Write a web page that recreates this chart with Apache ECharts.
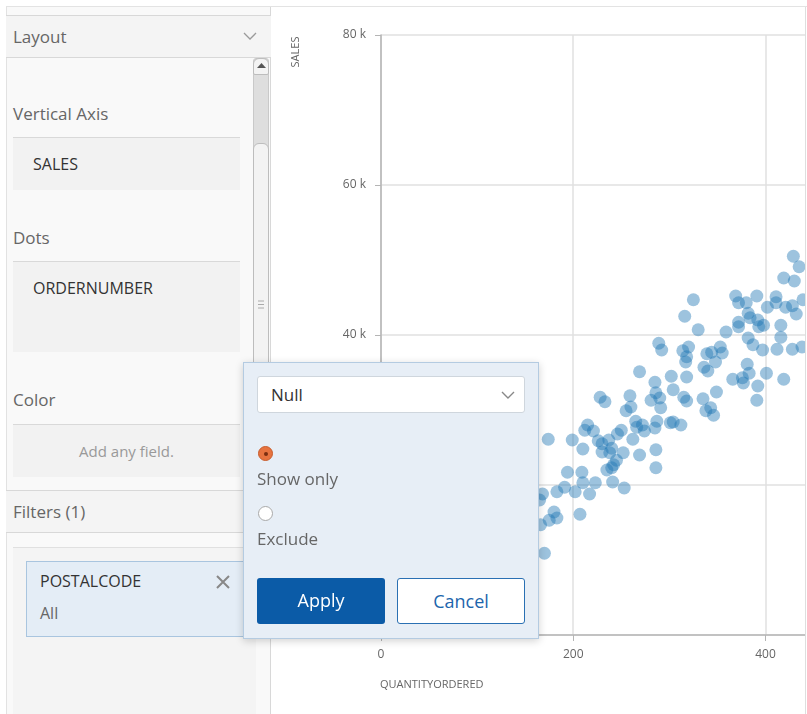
<!DOCTYPE html>
<html>
<head>
<meta charset="utf-8">
<script src="https://cdn.jsdelivr.net/npm/echarts@6/dist/echarts.min.js"></script>
<style>
body{margin:0;width:807px;height:714px;overflow:hidden;background:#fff;font-family:"Open Sans",sans-serif;position:relative}
div{box-sizing:border-box}
.abs{position:absolute}
.topline{left:6px;top:6px;width:801px;height:1px;background:#e3e3e3}
.leftcol{left:6px;top:7px;width:265px;height:707px;background:#f9f9f9;border-left:1px solid #e2e2e2;border-right:1px solid #d8d8d8}
.hdr{left:6px;width:265px;height:43px;background:#f4f4f4;border-top:1px solid #d8d8d8;border-bottom:1px solid #d8d8d8;color:#666;font-size:17px;line-height:41px;padding-left:7px}
.lbl{left:13px;color:#666;font-size:17px;line-height:24px}
.box{left:13px;width:227px;background:#f2f2f2;border-top:1px solid #d9d9d9;color:#333;font-size:16px;padding-left:20px}
.scroll{left:253px;top:58px;width:16px;height:432px;background:#dedede;border:1px solid #c9c9c9;border-radius:3px}
.thumb{left:253px;top:143px;width:16px;height:330px;background:#f3f3f3;border:1px solid #bdbdbd;border-radius:6px}
.arrowbtn{left:253px;top:58px;width:16px;height:17px;background:#f3f3f3;border:1px solid #bdbdbd;border-radius:6px 6px 2px 2px}
.filterArea{left:13px;top:547px;width:243px;height:167px;background:#f4f4f4;border-top:1px solid #e0e0e0}
.card{left:26px;top:561px;width:232px;height:76px;background:#e4edf6;border:1px solid #a9c5df}
.chartWrap{left:271px;top:7px;width:535px;height:707px;overflow:hidden;background:#fff;border-right:1px solid #dedede}
#chart{position:absolute;left:0;top:0;width:700px;height:707px}
.popup{left:243px;top:362px;width:296px;height:277px;background:#e7eef6;border:1px solid #b4cbe1;box-shadow:0 2px 8px rgba(0,0,0,0.18);z-index:10}
.sel{left:13px;top:13px;width:268px;height:37px;background:#fff;border:1px solid #cfd6dd;border-radius:3px;color:#333;font-size:17px;line-height:35px;padding-left:13px}
.radio{width:15px;height:15px;border-radius:50%}
.ptext{left:13px;color:#666;font-size:17px;line-height:24px}
.btn{top:215px;width:128px;height:46px;border-radius:3px;font-size:18px;text-align:center;line-height:44px}
</style>
</head>
<body>
<div class="abs topline"></div>
<div class="abs leftcol"></div>
<div class="abs hdr" style="top:15px">Layout</div>
<svg class="abs" style="left:243px;top:32px" width="14" height="9"><polyline points="1,1 7,7 13,1" fill="none" stroke="#9a9a9a" stroke-width="1.3"/></svg>
<div class="abs scroll"></div>
<div class="abs thumb"></div>
<div class="abs arrowbtn"></div>
<svg class="abs" style="left:257px;top:63px" width="9" height="6"><polygon points="4.5,0 9,5 0,5" fill="#555"/></svg>
<svg class="abs" style="left:257px;top:300px" width="8" height="10"><path d="M1 1h6M1 4.5h6M1 8h6" stroke="#aaa" stroke-width="1"/></svg>

<div class="abs lbl" style="top:102px">Vertical Axis</div>
<div class="abs box" style="top:137px;height:53px;line-height:52px">SALES</div>
<div class="abs lbl" style="top:226px">Dots</div>
<div class="abs box" style="top:261px;height:91px;line-height:52px">ORDERNUMBER</div>
<div class="abs lbl" style="top:388px">Color</div>
<div class="abs box" style="top:424px;height:53px;line-height:52px;color:#999;font-size:15px;padding-left:0;text-align:center">Add any field.</div>
<div class="abs hdr" style="top:490px">Filters (1)</div>
<div class="abs filterArea"></div>
<div class="abs card">
  <div class="abs" style="left:13px;top:8px;color:#333;font-size:16px">POSTALCODE</div>
  <div class="abs" style="left:13px;top:40px;color:#666;font-size:16px">All</div>
  <svg class="abs" style="left:188px;top:12px" width="16" height="16"><path d="M2 2L14 14M14 2L2 14" stroke="#888" stroke-width="2"/></svg>
</div>

<div class="abs chartWrap"><div id="chart"></div></div>

<div class="abs popup">
  <div class="abs sel">Null</div>
  <svg class="abs" style="left:257px;top:28px" width="14" height="9"><polyline points="1,1 7,7 13,1" fill="none" stroke="#888" stroke-width="1.4"/></svg>
  <div class="abs radio" style="left:14px;top:83px;background:#e7733f;border:1px solid #c85c2c"></div>
  <div class="abs" style="left:19.5px;top:88.5px;width:4px;height:4px;border-radius:50%;background:#7a2e10"></div>
  <div class="abs ptext" style="top:104px">Show only</div>
  <div class="abs radio" style="left:14px;top:143px;background:#fff;border:1px solid #a8a8a8"></div>
  <div class="abs ptext" style="top:164px">Exclude</div>
  <div class="abs btn" style="left:13px;background:#0b5ba7;color:#fff">Apply</div>
  <div class="abs btn" style="left:153px;background:#fff;border:1px solid #2a70b3;color:#1d65ac">Cancel</div>
</div>

<script>
var quantityOrdered = [429,435,419,430,439,325,316,330,369,372,380,391,402,411,411,421,428,432,382,384,392,398,372,372,393,416,359,382,387,416,314,320,318,317,339,344,353,355,348,336,340,381,383,366,376,377,392,401,419,391,397,412,428,438,292,289,269,285,302,318,304,315,318,335,349,338,343,346,304,312,228,233,259,260,255,281,286,290,291,265,266,274,272,285,287,301,215,212,221,250,246,262,174,199,226,237,230,210,240,238,252,286,269,286,245,242,235,240,194,209,210,223,241,253,191,183,202,217,207,180,183,175,166,165,168,170,230];
var sales = [50500,49100,47600,47200,44700,44700,42500,40700,45200,44300,44300,45200,43700,45100,44300,43700,43900,42800,42900,42300,42000,41300,41700,41100,41100,41300,40400,39600,38700,39700,37900,38400,37100,36400,37500,37700,38400,37600,36400,35700,35200,36100,34900,34100,34300,33600,33200,34900,34100,31300,38000,38100,38100,38400,38000,38900,35100,33700,34500,34400,32700,31700,31200,31500,32400,29900,30300,29300,28400,28000,31700,31100,31900,30400,29900,31300,32300,31600,30300,28500,27700,27200,28000,27600,28500,28300,28000,27300,27200,27300,26800,26100,26100,26000,25900,26000,25500,24800,24900,24300,24300,24700,24000,22300,23300,22700,22000,22300,21700,21700,20300,20300,20400,19600,19700,19100,19100,18800,16100,16400,15600,15300,14700,18000,18800,10900,24400];
var xTicks = [0, 200, 400];
var yTicks = [0, 20000, 40000, 60000, 80000];

var points = [];
for (var i = 0; i < quantityOrdered.length; i++) {
    points.push([quantityOrdered[i], sales[i]]);
}

var myChart = echarts.init(document.getElementById('chart'));
var axisColor = '#b5b5b5';

myChart.setOption({
    animation: false,
    grid: { left: 110, top: 28, width: 579, height: 600 },
    xAxis: {
        type: 'value',
        min: xTicks[0],
        max: 600,
        interval: 200,
        axisLine: { lineStyle: { color: axisColor, width: 1.5 } },
        axisTick: { show: true, length: 6, lineStyle: { color: axisColor } },
        axisLabel: { color: '#666', fontSize: 12, fontFamily: 'Open Sans', margin: 14 },
        splitLine: { lineStyle: { color: '#e0e0e0', width: 1.5 } }
    },
    yAxis: {
        type: 'value',
        min: yTicks[0],
        max: yTicks[yTicks.length - 1],
        interval: 20000,
        axisLine: { show: true, lineStyle: { color: axisColor, width: 1.5 } },
        axisTick: { show: true, length: 6, lineStyle: { color: axisColor } },
        axisLabel: {
            color: '#666', fontSize: 12, fontFamily: 'Open Sans', margin: 15,
            formatter: function (v) { return v / 1000 + ' k'; }
        },
        splitLine: { lineStyle: { color: '#e0e0e0', width: 1.5 } }
    },
    graphic: [
        {
            type: 'text', x: 25, y: 45, rotation: Math.PI / 2,
            style: { text: 'SALES', fill: '#666', fontSize: 11, fontFamily: 'Open Sans', align: 'center', verticalAlign: 'middle' }
        },
        {
            type: 'text', x: 109, y: 678,
            style: { text: 'QUANTITYORDERED', fill: '#666', fontSize: 11, fontFamily: 'Open Sans', align: 'left', verticalAlign: 'middle' }
        }
    ],
    series: [{
        type: 'scatter',
        symbolSize: 13,
        itemStyle: { color: 'rgba(31,119,180,0.55)' },
        data: points
    }]
});
</script>
</body>
</html>
